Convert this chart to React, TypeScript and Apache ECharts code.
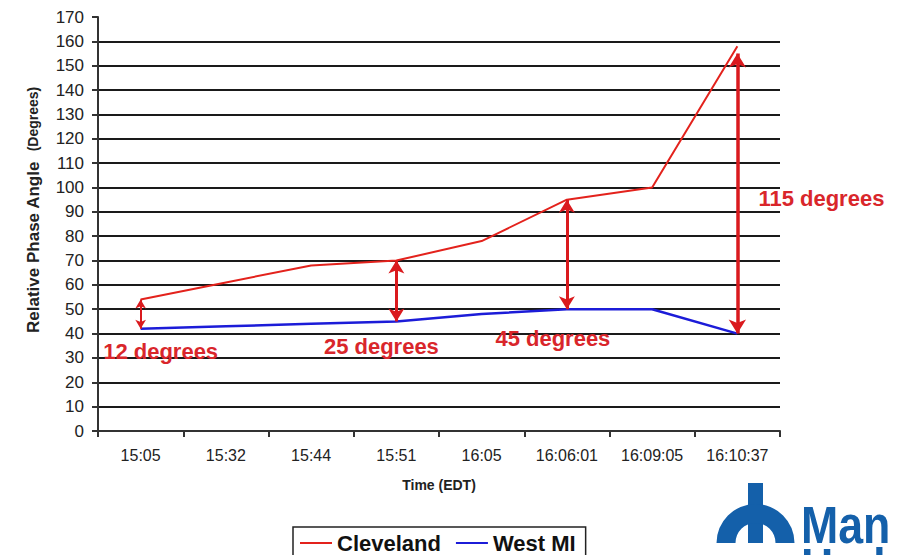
import React, { useEffect, useRef } from "react";
import * as echarts from "echarts";

// Sample times along the category axis
const times = ["15:05", "15:32", "15:44", "15:51", "16:05", "16:06:01", "16:09:05", "16:10:37"];

// Relative phase angle (degrees) at each time
const cleveland = [54, 61, 68, 70, 78, 95, 100, 158];
const westMI = [42, 43, 44, 45, 48, 50, 50, 40];

// Separation annotations: where the double arrow sits and its span
const gapTimes = ["15:05", "15:51", "16:06:01", "16:10:37"];
const gapFrom = [42, 45, 50, 40];
const gapTo = [54, 70, 95, 155];
const gapLabels = ["12 degrees", "25 degrees", "45 degrees", "115 degrees"];
// label anchors (value axis) for the annotation texts
const gapLabelValues = [32.5, 34.5, 38, 95.5];

const FONT = "Arial, 'Liberation Sans', Helvetica, sans-serif";
const RED = "#e3221c";
const BLUE = "#1c1cd8";
const ARROW = "#da1a1e";
const LABEL_RED = "#d9262b";
const LOGO_BLUE = "#1460aa";

export default function App() {
  const ref = useRef<HTMLDivElement>(null);

  useEffect(() => {
    if (!ref.current) return;
    const chart = echarts.init(ref.current, undefined, { renderer: "svg" });

    const arrowWidths = [2, 3, 3, 3.5];
    const arrowSizes = [[8, 9], [12, 13], [12, 13], [13, 14]];
    const labelOffsets = [[20, 0], [-15, 0], [-14, 0], [84, 0]];

    const markLineData = gapTimes.map((t, i) => [
      {
        coord: [t, gapFrom[i]],
        symbolSize: arrowSizes[i],
        lineStyle: { width: arrowWidths[i], color: ARROW, type: "solid" },
      },
      { coord: [t, gapTo[i]], symbolSize: arrowSizes[i] },
    ]);

    const markPointData = gapTimes.map((t, i) => ({
      coord: [t, gapLabelValues[i]],
      value: gapLabels[i],
      label: { offset: labelOffsets[i] },
    }));

    const logoFont = "'Liberation Sans Narrow', 'Arial Narrow', Arial, sans-serif";

    chart.setOption({
      animation: false,
      backgroundColor: "#ffffff",
      grid: { left: 98, right: 121, top: 17, bottom: 124, containLabel: false },
      legend: {
        left: 293,
        top: 527,
        orient: "horizontal",
        itemWidth: 32,
        itemHeight: 12,
        itemGap: 14,
        padding: [5, 10, 5, 6],
        borderColor: "#222",
        borderWidth: 1.5,
        borderRadius: 0,
        itemStyle: { opacity: 0 },
        lineStyle: { width: 2 },
        textStyle: { fontFamily: FONT, fontSize: 22, fontWeight: "bold", color: "#111", padding: [0, 0, 0, 0] },
        data: ["Cleveland", "West MI"],
      },
      xAxis: {
        type: "category",
        data: times,
        boundaryGap: true,
        name: "Time (EDT)",
        nameLocation: "middle",
        nameGap: 47,
        nameTextStyle: { fontFamily: FONT, fontSize: 14, fontWeight: "bold", color: "#222" },
        axisLine: { lineStyle: { color: "#333", width: 2 } },
        axisTick: { show: true, length: 6, lineStyle: { color: "#333", width: 2 } },
        axisLabel: { fontFamily: FONT, fontSize: 16, color: "#222", margin: 16, interval: 0 },
        splitLine: { show: false },
      },
      yAxis: {
        type: "value",
        min: 0,
        max: 170,
        interval: 10,
        axisLine: { show: true, lineStyle: { color: "#333", width: 2 } },
        axisTick: { show: true, length: 6, lineStyle: { color: "#333", width: 2 } },
        axisLabel: { fontFamily: FONT, fontSize: 17, color: "#222", margin: 14 },
        splitLine: { show: true, showMaxLine: false, lineStyle: { color: "#1a1a1a", width: 2 } },
      },
      series: [
        {
          name: "Cleveland",
          type: "line",
          data: cleveland,
          symbol: "none",
          color: RED,
          lineStyle: { color: RED, width: 2 },
          z: 3,
          markLine: {
            silent: true,
            symbol: ["arrow", "arrow"],
            label: { show: false },
            lineStyle: { color: ARROW, type: "solid" },
            data: markLineData,
            z: 4,
          },
          markPoint: {
            silent: true,
            symbol: "circle",
            symbolSize: 1,
            itemStyle: { color: "rgba(0,0,0,0)" },
            label: {
              show: true,
              position: "inside",
              formatter: (p: any) => p.value,
              fontFamily: FONT,
              fontSize: 22,
              fontWeight: "bold",
              color: LABEL_RED,
            },
            data: markPointData,
          },
        },
        {
          name: "West MI",
          type: "line",
          data: westMI,
          symbol: "none",
          color: BLUE,
          lineStyle: { color: BLUE, width: 2.5 },
          z: 3,
        },
      ],
      graphic: [
        {
          type: "text",
          x: 33,
          y: 210,
          rotation: Math.PI / 2,
          style: {
            text: "{a|Relative Phase Angle}   {b|(Degrees)}",
            align: "center",
            verticalAlign: "middle",
            fill: "#222",
            rich: {
              a: { fontFamily: FONT, fontSize: 17, fontWeight: "bold", fill: "#222" },
              b: { fontFamily: FONT, fontSize: 14, fontWeight: "bold", fill: "#222" },
            },
          },
        },
        // utility logo: tower glyph and wordmark, trimmed at the right edge
        {
          type: "group",
          children: [
            { type: "rect", shape: { x: 748, y: 483, width: 15, height: 60 }, style: { fill: LOGO_BLUE } },
            {
              type: "sector",
              shape: { cx: 755.5, cy: 543, r: 39, r0: 20, startAngle: Math.PI, endAngle: Math.PI * 2 },
              style: { fill: LOGO_BLUE },
            },
            {
              type: "text",
              x: 801,
              y: 551,
              scaleX: 0.86,
              style: {
                text: "Manitoba",
                fontFamily: logoFont,
                fontSize: 52,
                fontWeight: "bold",
                fill: LOGO_BLUE,
                verticalAlign: "bottom",
                align: "left",
              },
            },
            {
              type: "text",
              x: 801,
              y: 541,
              scaleX: 0.86,
              style: {
                text: "Hydro",
                fontFamily: logoFont,
                fontSize: 52,
                fontWeight: "bold",
                fill: LOGO_BLUE,
                verticalAlign: "top",
                align: "left",
              },
            },
            { type: "rect", z: 10, shape: { x: 893, y: 480, width: 10, height: 80 }, style: { fill: "#ffffff" } },
          ],
        },
      ],
    });

    return () => chart.dispose();
  }, []);

  return (
    <div
      ref={ref}
      style={{ position: "absolute", left: 0, top: 0, width: 901, height: 555, background: "#fff" }}
    />
  );
}
